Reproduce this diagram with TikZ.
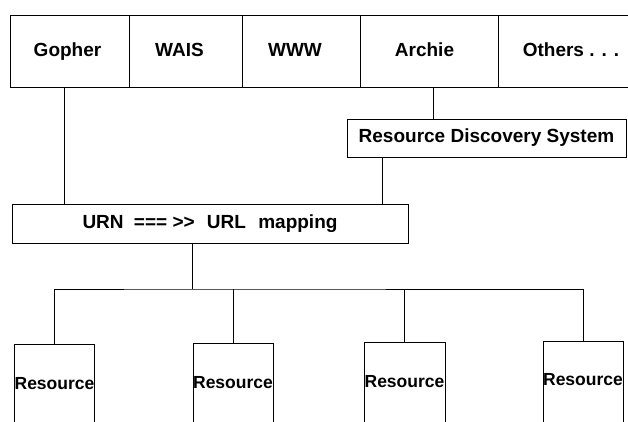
\documentclass[tikz,border=0pt]{standalone}
\usepackage{fontspec}
\setmainfont{Liberation Sans}
\begin{document}
\begin{tikzpicture}[x=1pt,y=-1pt,
  box/.style={draw, line width=1pt, inner sep=0pt, font=\bfseries\fontsize{19}{19}\selectfont},
  topbox/.style={box, minimum height=72pt, text height=14pt, text depth=4pt},
  resbox/.style={draw, line width=1pt, inner sep=0pt, minimum height=98pt, font=\bfseries\fontsize{17.5}{17.5}\selectfont},
  wire/.style={line width=1pt}]
\useasboundingbox (0,0) rectangle (628,421);
\clip (0,0) rectangle (628,421);
\fill[white] (0,0) rectangle (628,421);
% top row
\node[topbox, minimum width=119pt] (gopher) at (69.5,51) {Gopher\hspace*{4pt}};
\node[topbox, minimum width=113pt] (wais) at (185.5,51) {WAIS\hspace*{12pt}};
\node[topbox, minimum width=118pt] (www) at (301,51) {WWW\hspace*{12pt}};
\node[topbox, minimum width=138pt] (archie) at (429,51) {Archie\hspace*{9pt}};
\node[topbox, minimum width=160pt] (others) at (578,51) {Others . . .\hspace*{14pt}};
% middle boxes
\node[box, minimum width=279pt, minimum height=38pt] (rds) at (486.5,138) {Resource Discovery System};
\node[box, minimum width=396pt, minimum height=39pt] (urn) at (210,223.5) {URN\hspace{5pt} === >{}>\hspace{7pt} URL\hspace{7pt} mapping};
% resources
\node[resbox, minimum width=79pt] (res1) at (54.5,393) {\raisebox{4pt}[0pt][0pt]{Resource}};
\node[resbox, minimum width=80pt] (res2) at (233,392) {\raisebox{4pt}[0pt][0pt]{Resource}};
\node[resbox, minimum width=81pt] (res3) at (404.5,391) {\raisebox{4pt}[0pt][0pt]{Resource}};
\node[resbox, minimum width=80pt] (res4) at (583,390) {\raisebox{5pt}[0pt][0pt]{Resource}};
% connectors
\draw[wire] ([xshift=-5.5pt]gopher.south) -- ([xshift=-5.5pt]gopher.south |- urn.north);
\draw[wire] ([xshift=4pt]archie.south) -- ([xshift=4pt]archie.south |- rds.north);
\draw[wire] ([xshift=-104.5pt]rds.south) -- ([xshift=-104.5pt]rds.south |- urn.north);
\coordinate (bus) at ([xshift=-18pt]urn.south |- 0,289);
\draw[wire] ([xshift=-18pt]urn.south) -- (bus);
\draw[wire] (res1.north) |- (bus) -| (res4.north);
\draw[wire] (res2.north) -- (res2.north |- bus);
\draw[wire] (res3.north) -- (res3.north |- bus);
\end{tikzpicture}
\end{document}
